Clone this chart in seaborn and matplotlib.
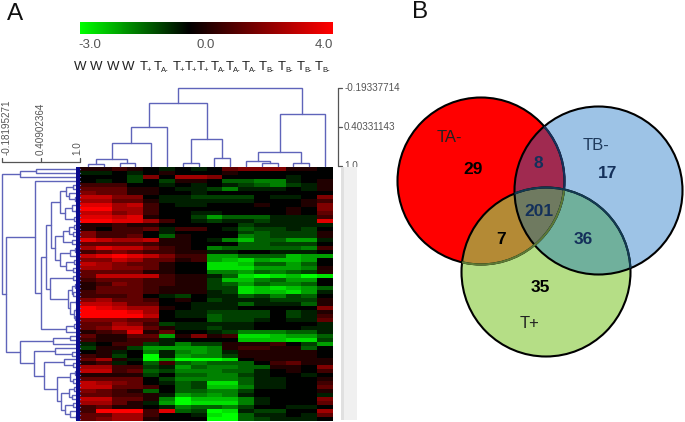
# coding: utf-8

import numpy as np
import pandas as pd
import matplotlib
matplotlib.use('Agg')
import matplotlib.pyplot as plt
import seaborn as sns
from matplotlib.colors import LinearSegmentedColormap
from matplotlib.patches import Circle, Polygon, Rectangle

# Heat map values (half units, green side rescaled below)
heat_rows = [
    [1,1,2,1,0,-1,0,-1,0,3,4,4,4,1,1,0],
    [-1,-1,0,-1,0,1,0,0,0,1,0,0,0,0,0,0],
    [0,0,0,-2,4,0,5,5,4,0,0,0,0,-1,0,0],
    [0,-1,0,-2,0,-2,1,1,0,-3,-3,-4,-4,-1,0,1],
    [2,2,2,0,0,-1,0,-1,0,-1,-2,-3,-4,-2,-1,1],
    [3,3,3,1,1,0,-1,-1,-2,-4,-1,-1,-1,0,-1,1],
    [4,3,3,1,1,0,0,-1,0,0,0,0,0,0,0,0],
    [6,6,4,4,0,-1,-1,-2,-2,-2,-2,0,-1,-1,0,4],
    [5,5,3,3,1,-1,-1,-1,-1,-1,-1,0,0,0,1,2],
    [7,7,5,6,2,0,-1,-1,0,0,0,1,0,0,1,4],
    [8,8,5,5,2,0,0,0,0,0,0,0,0,1,0,4],
    [6,6,4,5,2,0,0,-1,-1,0,0,0,0,1,0,3],
    [7,7,6,7,1,0,0,-2,-5,-3,-3,-3,-1,-1,-1,2],
    [8,8,7,7,5,2,0,-1,-2,-1,-1,-2,-1,-1,-1,7],
    [1,1,2,1,1,0,0,0,0,0,-2,-1,-1,-1,-1,-1],
    [1,0,2,2,3,-1,2,2,0,-1,-3,-2,-2,-1,-2,0],
    [4,2,2,2,0,-1,0,0,0,0,-2,-3,-2,-2,-2,1],
    [4,2,2,3,0,-3,1,0,0,0,-4,-3,-2,-2,-2,1],
    [7,6,5,5,6,1,1,0,-1,-4,-6,-3,-3,-5,-5,-1],
    [3,3,3,3,2,1,1,0,0,0,-3,-3,-2,-2,-2,0],
    [5,7,6,6,4,2,1,0,-4,-3,-3,-3,-3,-3,-4,2],
    [2,3,4,3,2,2,1,1,-1,-1,0,0,-1,-1,-1,0],
    [6,7,8,7,6,4,2,2,-5,-5,-3,-3,-3,-6,-5,-5],
    [4,4,6,5,3,3,1,2,-5,-6,-7,-5,-6,-6,-5,0],
    [6,5,4,3,3,1,0,0,-7,-7,-6,-3,-3,-5,-3,0],
    [5,5,4,4,3,1,0,0,-7,-7,-7,-5,-5,-5,-4,1],
    [3,3,3,3,1,1,0,0,-4,-4,-5,-3,-4,-3,-2,1],
    [3,6,6,6,6,2,1,1,-1,-3,-7,-8,-7,-6,-8,-7],
    [2,3,3,3,2,2,1,1,-2,-6,-6,-4,-3,-5,-5,0],
    [1,2,4,3,2,2,1,1,-2,-3,-5,-3,-4,-4,-3,0],
    [1,3,3,3,2,1,1,1,-2,-2,-7,-6,-7,-6,-5,-3],
    [2,3,3,3,2,1,1,1,-1,-2,-7,-6,-6,-7,-5,-1],
    [2,2,2,3,0,-1,-2,0,-1,-1,-3,-2,-4,-2,-3,0],
    [4,5,3,3,2,0,1,0,-2,-1,-1,-1,-2,-2,-2,1],
    [6,6,5,3,3,0,0,-1,-1,-1,-3,-1,-1,-1,-3,1],
    [8,7,6,5,5,1,0,-1,-1,-1,0,0,0,0,0,4],
    [8,8,8,7,5,0,-1,-1,-2,-2,-2,-2,0,-2,-1,1],
    [8,8,8,8,6,0,-1,-1,-3,-2,-2,-2,0,-2,-1,2],
    [4,4,4,3,3,0,0,0,-3,-2,-2,-1,0,-1,-1,3],
    [3,3,5,4,2,-2,-1,-1,-1,-1,-1,0,0,0,0,-1],
    [3,4,6,6,3,1,-1,-1,-2,-1,-1,0,0,0,-1,-1],
    [1,2,3,7,1,3,0,0,-1,-2,-4,-4,-4,-3,-3,-1],
    [3,1,1,3,3,-5,1,4,1,2,-7,-7,-6,-5,-5,-3],
    [2,1,1,2,2,-1,0,0,0,0,-6,-6,-6,-7,-7,-2],
    [-1,0,2,2,-2,-1,-4,-2,-2,1,1,1,2,0,-2,-5],
    [-2,1,1,-2,-5,-5,-5,-5,-4,1,2,2,1,1,-3,0],
    [0,1,-1,0,-4,-1,-4,-5,-4,-1,1,1,1,1,1,0],
    [2,1,-2,0,-8,-1,-5,-4,-4,-2,1,1,1,1,1,0],
    [3,5,1,-1,-8,-5,-8,-8,-8,-7,0,1,1,1,1,1],
    [1,2,-1,0,-3,2,-3,-4,-3,-3,-3,0,2,3,1,1],
    [5,5,2,2,-2,-1,-5,-3,-4,-4,-3,-3,1,1,0,4],
    [6,6,2,3,-3,-2,-4,-4,-4,-3,-3,-1,0,1,0,2],
    [1,1,1,1,-2,0,-3,-3,-4,-4,-2,-1,0,0,-1,0],
    [3,3,3,3,0,-2,-4,-4,-4,-4,-3,-1,-1,0,0,1],
    [6,5,4,3,0,-1,-3,-2,-7,-7,-3,-1,-1,0,0,2],
    [6,6,3,3,2,0,-3,-2,-6,-6,-4,-1,-1,0,0,3],
    [4,3,2,1,-3,0,-3,-3,-4,-4,-2,0,0,0,0,1],
    [3,3,2,2,1,-1,-5,-4,-5,-4,-1,0,0,0,0,-1],
    [6,6,3,3,1,-4,-8,-6,-6,-6,-4,-1,0,0,0,4],
    [5,5,3,1,-1,-5,-8,-7,-7,-7,-4,-1,0,0,0,3],
    [2,3,1,1,0,-1,-4,-3,-3,-4,-2,0,0,-1,-1,0],
    [2,8,8,8,2,7,-3,-2,-8,-7,-1,-2,-2,0,0,5],
    [3,3,5,5,2,0,0,-1,-7,-8,-3,-1,-1,0,-1,3],
    [3,4,5,5,1,0,0,0,-8,-8,-3,-2,-1,-1,-1,0],
]
column_names = ['W', 'W', 'W', 'W', 'T+', 'TA-', 'T+', 'T+', 'T+', 'TA-', 'TA-', 'TA-', 'TB-', 'TB-', 'TB-', 'TB-']
color_ticks = [-3.0, 0.0, 4.0]

# Dendrograms as nested (correlation, left, right), leaves are column / row indexes
col_tree = (-0.19,
            (0.03,
             (0.40, (0.65, (0.90, (0.97, 0, 1), (0.96, 2, 3)), 4), 5),
             (0.58, (0.96, 6, 7), (0.88, 8, 9))),
            (0.21, (0.79, (0.92, 10, (0.96, 11, 12)), (0.96, 13, 14)), 15))

row_top = (0.09, (0.34, 0, 1), 2)
row_a1 = (0.71, (0.80, (0.90, 4, 5), (0.84, 6, (0.93, 7, 8))),
          (0.78, (0.88, 9, (0.94, 10, 11)), (0.91, 12, 13)))
row_a2 = (0.63, (0.75, (0.84, (0.92, 14, 15), (0.90, 16, 17)), (0.88, 18, 19)),
          (0.70, (0.86, (0.93, 20, 21), 22), (0.80, (0.92, 23, 24), (0.90, 25, 26))))
row_a3 = (0.55, (0.90, 27, 28),
          (0.82, (0.88, (0.93, 29, 30), (0.90, 31, 32)),
           (0.86, (0.94, 33, 34), (0.91, (0.95, 35, 36), (0.93, 37, 38)))))
row_a4 = (0.80, (0.92, 39, 40), 41)
row_a = (0.32, 3, (0.42, (0.49, (0.57, row_a1, row_a2), row_a3), row_a4))
row_b1 = (0.60, (0.85, 42, 43), 44)
row_b2 = (0.62, 45, (0.88, 46, 47))
row_b3 = (0.46, (0.77, 48, (0.90, 49, 50)),
          (0.66, (0.85, (0.93, 51, 52), (0.90, 53, 54)),
           (0.72, (0.84, (0.92, 55, 56), (0.88, 57, 58)),
            (0.78, (0.90, 59, 60), (0.86, 61, (0.94, 62, 63))))))
row_tree = (-0.187, row_top, (-0.12, row_a, (0.09, row_b1, (0.30, row_b2, row_b3))))

# Venn sets: name, region counts
venn_names = ['TA-', 'TB-', 'T+']
venn_counts = [29, 17, 35, 8, 7, 36, 201]

sns.set_style('white')
plt.rcParams['font.family'] = ['Liberation Sans', 'DejaVu Sans']

W, H = 685, 422
fig = plt.figure(figsize=(W / 100, H / 100), dpi=100)


def px_axes(x0, y0, x1, y1):
    return fig.add_axes([x0 / W, 1 - y1 / H, (x1 - x0) / W, (y1 - y0) / H])


heat_cmap = LinearSegmentedColormap.from_list('gbr', [(0, '#00ff00'), (3 / 7, '#000000'), (1, '#ff0000')])
DENDRO = '#5f64ba'
GREY = '#555555'

# Heat map
raw = np.array(heat_rows, dtype=float)
heat = pd.DataFrame(np.where(raw > 0, raw / 2, raw * 3 / 8))
ax_heat = px_axes(80, 167, 333, 421)
sns.heatmap(heat, cmap=heat_cmap, vmin=-3, vmax=4, cbar=False, xticklabels=False, yticklabels=False, ax=ax_heat)

# Colour scale
ax_scale = px_axes(80, 22, 333, 33.5)
sns.heatmap(np.linspace(-3, 4, 256)[None, :], cmap=heat_cmap, vmin=-3, vmax=4, cbar=False,
            xticklabels=False, yticklabels=False, ax=ax_scale)


def draw_tree(node, ax, vertical):
    # returns leaf position and height of a node, drawing on the way
    if not isinstance(node, tuple):
        return node + 0.5, 1.0
    h, left, right = node
    p0, h0 = draw_tree(left, ax, vertical)
    p1, h1 = draw_tree(right, ax, vertical)
    xs, ys = [p0, p0, p1, p1], [h0, h, h, h1]
    if vertical:
        ax.plot(xs, ys, color=DENDRO, lw=1.0, solid_joinstyle='miter', clip_on=False)
    else:
        ax.plot(ys, xs, color=DENDRO, lw=1.0, solid_joinstyle='miter', clip_on=False)
    return (p0 + p1) / 2, h


# Column dendrogram with its scale on the right
ax_col = px_axes(80, 88, 333, 166)
draw_tree(col_tree, ax_col, True)
ax_col.set_xlim(0, 16)
ax_col.set_ylim(1.0, -0.19337714)
ax_col.axis('off')
ax_col.plot([16.3, 16.3], [-0.19337714, 1.0], color=GREY, lw=0.9, clip_on=False)
for v, lab in zip([-0.19337714, 0.40331143, 1.0], ['-0.19337714', '0.40331143', '1.0']):
    ax_col.plot([16.3, 16.55], [v, v], color=GREY, lw=0.9, clip_on=False)
    ax_col.text(16.7, v, lab, fontsize=7.1, color=GREY, va='center', ha='left')

# Row dendrogram with its scale on top
ax_row = px_axes(2, 167, 79.5, 421)
draw_tree(row_tree, ax_row, False)
ax_row.set_xlim(-0.18195271, 1.0)
ax_row.set_ylim(64, 0)
ax_row.axis('off')
ax_row.plot([-0.18195271, 1.0], [-1.3, -1.3], color=GREY, lw=0.9, clip_on=False)
for v, lab in zip([-0.18195271, 0.40902364, 1.0], ['-0.18195271', '0.40902364', '1.0']):
    ax_row.plot([v, v], [-1.3, -2.3], color=GREY, lw=0.9, clip_on=False)
    ax_row.text(v + 0.07 if v < 0 else (v if v < 0.9 else v - 0.04), -3.0, lab, fontsize=7.1, color=GREY,
                rotation=90, va='bottom', ha='center')

# Overlay in picture pixels for the lettering and the Venn diagram
ax = fig.add_axes([0, 0, 1, 1], zorder=5)
ax.set_xlim(0, W)
ax.set_ylim(H, 0)
ax.axis('off')
ax.patch.set_alpha(0)

# Dense leaves of the row dendrogram against the heat map
ax.add_patch(Rectangle((76.5, 167), 3.5, 254, color='#0a0a8c', lw=0))

# Illegible gene names at the right of the heat map
ax.add_patch(Rectangle((341, 167), 16, 253, color='#f0f0f0', lw=0))
ax.add_patch(Rectangle((341, 167), 3, 253, color='#e0e0e0', lw=0))

ax.text(15, 20, 'A', fontsize=17.5, ha='center', va='baseline', color='#111111')
ax.text(420, 18, 'B', fontsize=17.5, ha='center', va='baseline', color='#111111')

for x, v in zip([90, 206, 324], color_ticks):
    ax.text(x, 44.5, '%.1f' % v, fontsize=9.5, color=GREY, ha='center', va='center')

# Column names: W centred, T with a small subscript from its left edge
name_x = [80, 96, 113, 128, 139.5, 154, 172.5, 185, 197, 211, 226, 242, 259, 278, 297, 315]
for x, name in zip(name_x, column_names):
    if name == 'W':
        ax.text(x, 70, 'W', fontsize=9.5, ha='center', va='baseline', color='#222222')
    else:
        ax.text(x, 70, 'T', fontsize=9.5, ha='left', va='baseline', color='#222222')
        ax.text(x + 7, 72, name[1:], fontsize=5.5, ha='left', va='baseline', color='#222222')

# Venn diagram
centres = {'TA-': (481, 181), 'TB-': (598.5, 190.5), 'T+': (546, 272)}
radii = {'TA-': 83.5, 'TB-': 84, 'T+': 84.5}
fills = {'TA-': '#ff0000', 'TB-': '#9dc3e6', 'T+': '#b5de86'}


def lens(names):
    # outline of the (convex) overlap of some circles
    pts = np.array([centres[n] for n in names], dtype=float)
    mid = pts.mean(axis=0)
    theta = np.linspace(0, 2 * np.pi, 720, endpoint=False)
    d = np.column_stack([np.cos(theta), np.sin(theta)])
    dist = np.full(theta.shape, np.inf)
    for n in names:
        off = mid - np.array(centres[n])
        b = d @ off
        c = off @ off - radii[n] ** 2
        dist = np.minimum(dist, -b + np.sqrt(b ** 2 - c))
    return mid + d * dist[:, None]


for n in venn_names:
    ax.add_patch(Circle(centres[n], radii[n], facecolor=fills[n], edgecolor='none'))
ax.add_patch(Polygon(lens(['TA-', 'TB-']), closed=True, facecolor='#a02a50', edgecolor='none'))
ax.add_patch(Polygon(lens(['TA-', 'T+']), closed=True, facecolor='#b48a35', edgecolor='none'))
ax.add_patch(Polygon(lens(['TB-', 'T+']), closed=True, facecolor='#70b09c', edgecolor='none'))
ax.add_patch(Polygon(lens(['TA-', 'TB-', 'T+']), closed=True, facecolor='#6f7a60', edgecolor='none'))

for n in venn_names:
    ax.add_patch(Circle(centres[n], radii[n], fill=False, edgecolor='black', lw=1.5))

# outline parts that show through another circle
for n, other, col in [('TA-', 'TB-', '#17305a'), ('TA-', 'T+', '#5d7a35'), ('T+', 'TB-', '#123a52')]:
    clip = Circle(centres[other], radii[other], transform=ax.transData)
    arc = Circle(centres[n], radii[n], fill=False, edgecolor=col, lw=1.5)
    ax.add_patch(arc)
    arc.set_clip_path(clip)

NAVY = '#14305a'
count_pos = [(473, 170), (608, 174), (540, 287), (538, 163), (501, 240), (583, 240), (539, 211)]
count_col = ['black', NAVY, 'black', NAVY, 'black', NAVY, NAVY]
for (x, y), c, col in zip(count_pos, venn_counts, count_col):
    ax.text(x, y, str(c), fontsize=12.5, fontweight='bold', color=col, ha='center', va='center')
for (x, y), name, col in zip([(449, 137), (596, 145), (530, 323)], venn_names, ['#222222', '#1f3a5c', '#222222']):
    ax.text(x, y, name, fontsize=12, color=col, ha='center', va='center')

plt.savefig('out.png', dpi=100)
